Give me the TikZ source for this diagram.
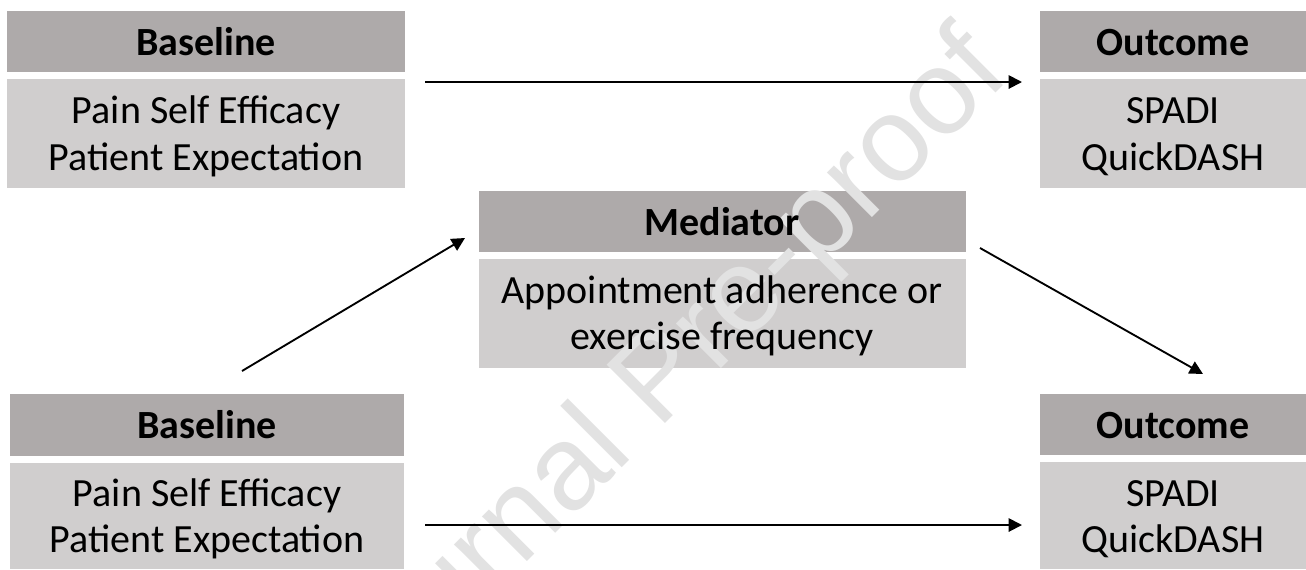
\documentclass[tikz,border=0pt]{standalone}
\usepackage{fontspec}
\setmainfont{Carlito}
\newfontfamily\wmfont{Liberation Sans}
\usetikzlibrary{arrows.meta,calc}
\definecolor{hdrgray}{RGB}{174,170,170}
\definecolor{bodygray}{RGB}{208,206,206}
\definecolor{wmgray}{RGB}{226,226,226}
\begin{document}
\begin{tikzpicture}[x=0.75pt,y=-0.75pt,
  hdr/.style={rectangle, fill=hdrgray, inner sep=0, outer sep=0, anchor=north west},
  bdy/.style={rectangle, fill=bodygray, inner sep=0, outer sep=0, anchor=north west},
  htxt/.style={anchor=base, inner sep=0, font=\fontsize{30}{36}\selectfont\bfseries},
  btxt/.style={anchor=base, inner sep=0, font=\fontsize{30}{36}\selectfont},
  wm/.style={anchor=base, inner sep=0, rotate=45, text=wmgray, font=\fontsize{90}{90}\selectfont\wmfont},
  arr/.style={-{Triangle[length=10pt,width=10pt]}, line width=1.4pt, black}]
\useasboundingbox (0,0) rectangle (1306,569);
% boxes
\node[hdr, minimum width=398*0.75pt, minimum height=61*0.75pt]  (tlh) at (7,11) {};
\node[bdy, minimum width=398*0.75pt, minimum height=109*0.75pt] (tlb) at (7,79) {};
\node[hdr, minimum width=266*0.75pt, minimum height=61*0.75pt]  (trh) at (1040,11) {};
\node[bdy, minimum width=266*0.75pt, minimum height=109*0.75pt] (trb) at (1040,79) {};
\node[hdr, minimum width=487*0.75pt, minimum height=61*0.75pt]  (mh) at (479,191) {};
\node[bdy, minimum width=487*0.75pt, minimum height=109*0.75pt] (mb) at (479,259) {};
\node[hdr, minimum width=394*0.75pt, minimum height=62*0.75pt]  (blh) at (10,394) {};
\node[bdy, minimum width=394*0.75pt, minimum height=106*0.75pt] (blb) at (10,463) {};
\node[hdr, minimum width=266*0.75pt, minimum height=61*0.75pt]  (brh) at (1040,394) {};
\node[bdy, minimum width=266*0.75pt, minimum height=107*0.75pt] (brb) at (1040,462) {};
% watermark
\node[wm] (wmark) at (684.6,404.6) {Journal Pre-proof};
% texts
\node[htxt] (tlht) at (206,55) {Baseline};
\node[btxt] (tlb1) at (206,123) {Pain Self Efficacy};
\node[btxt] (tlb2) at (206,170) {Patient Expectation};
\node[htxt] (trht) at (1173,55) {Outcome};
\node[btxt] (trb1) at (1173,123) {SPADI};
\node[btxt] (trb2) at (1173,170) {QuickDASH};
\node[htxt] (mht) at (722,235) {Mediator};
\node[btxt] (mb1) at (722,303) {Appointment adherence or};
\node[btxt] (mb2) at (722,349) {exercise frequency};
\node[htxt] (blht) at (207,438) {Baseline};
\node[btxt] (blb1) at (207,506) {Pain Self Efficacy};
\node[btxt] (blb2) at (207,552) {Patient Expectation};
\node[htxt] (brht) at (1173,438) {Outcome};
\node[btxt] (brb1) at (1173,506) {SPADI};
\node[btxt] (brb2) at (1173,552) {QuickDASH};
% connectors
\draw[arr] ($(tlb.north east)+(20,3)$) -- ($(trb.north west)+(-18,3)$);
\draw[arr] ($(blb.north east)+(21,62)$) -- ($(brb.north west)+(-18,63)$);
\draw[arr] ($(blh.north)+(35,-23)$) -- ($(mb.north west)+(-14,-21)$);
\draw[arr] ($(mh.east)+(14,26.5)$) -- ($(brh.north)+(30,-20)$);
\end{tikzpicture}
\end{document}
